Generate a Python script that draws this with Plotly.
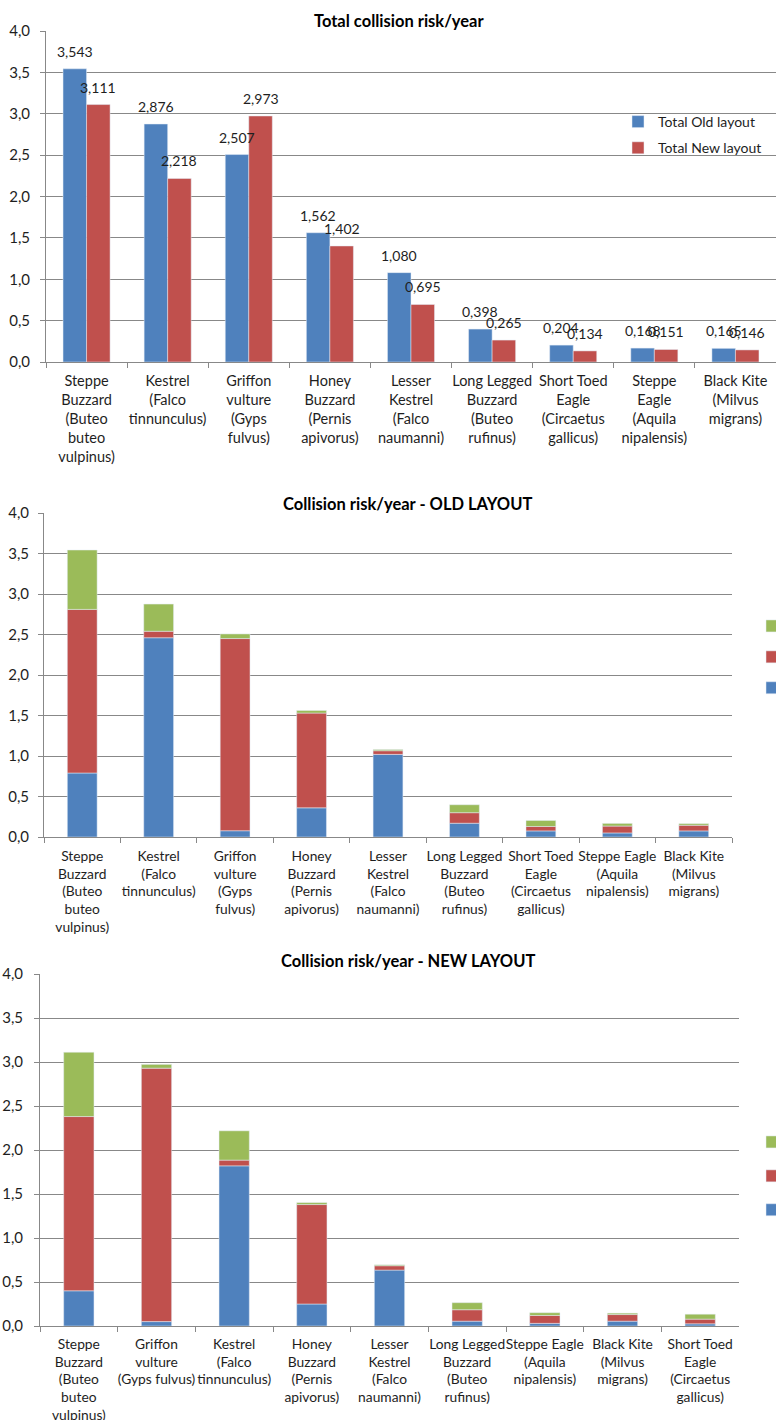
import plotly.graph_objects as go

# ---- data -------------------------------------------------------------
labels_total = [
    "Steppe<br>Buzzard<br>(Buteo<br>buteo<br>vulpinus)",
    "Kestrel<br>(Falco<br>tinnunculus)",
    "Griffon<br>vulture<br>(Gyps<br>fulvus)",
    "Honey<br>Buzzard<br>(Pernis<br>apivorus)",
    "Lesser<br>Kestrel<br>(Falco<br>naumanni)",
    "Long Legged<br>Buzzard<br>(Buteo<br>rufinus)",
    "Short Toed<br>Eagle<br>(Circaetus<br>gallicus)",
    "Steppe<br>Eagle<br>(Aquila<br>nipalensis)",
    "Black Kite<br>(Milvus<br>migrans)",
]
total_old = [3.543, 2.876, 2.507, 1.562, 1.080, 0.398, 0.204, 0.168, 0.165]
total_new = [3.111, 2.218, 2.973, 1.402, 0.695, 0.265, 0.134, 0.151, 0.146]

labels_old = [
    "Steppe<br>Buzzard<br>(Buteo<br>buteo<br>vulpinus)",
    "Kestrel<br>(Falco<br>tinnunculus)",
    "Griffon<br>vulture<br>(Gyps<br>fulvus)",
    "Honey<br>Buzzard<br>(Pernis<br>apivorus)",
    "Lesser<br>Kestrel<br>(Falco<br>naumanni)",
    "Long Legged<br>Buzzard<br>(Buteo<br>rufinus)",
    "Short Toed<br>Eagle<br>(Circaetus<br>gallicus)",
    "Steppe Eagle<br>(Aquila<br>nipalensis)",
    "Black Kite<br>(Milvus<br>migrans)",
]
old_blue = [0.790, 2.460, 0.077, 0.360, 1.020, 0.170, 0.075, 0.050, 0.075]
old_red = [2.020, 0.080, 2.373, 1.170, 0.045, 0.130, 0.055, 0.085, 0.070]
old_green = [0.733, 0.336, 0.057, 0.032, 0.015, 0.098, 0.074, 0.033, 0.020]

labels_new = [
    "Steppe<br>Buzzard<br>(Buteo<br>buteo<br>vulpinus)",
    "Griffon<br>vulture<br>(Gyps fulvus)",
    "Kestrel<br>(Falco<br>tinnunculus)",
    "Honey<br>Buzzard<br>(Pernis<br>apivorus)",
    "Lesser<br>Kestrel<br>(Falco<br>naumanni)",
    "Long Legged<br>Buzzard<br>(Buteo<br>rufinus)",
    "Steppe Eagle<br>(Aquila<br>nipalensis)",
    "Black Kite<br>(Milvus<br>migrans)",
    "Short Toed<br>Eagle<br>(Circaetus<br>gallicus)",
]
new_blue = [0.400, 0.050, 1.820, 0.250, 0.635, 0.055, 0.030, 0.055, 0.025]
new_red = [1.980, 2.880, 0.065, 1.130, 0.050, 0.130, 0.090, 0.075, 0.053]
new_green = [0.731, 0.043, 0.333, 0.022, 0.010, 0.080, 0.031, 0.016, 0.056]

# ---- styling ----------------------------------------------------------
W, H = 776, 1420
BLUE, RED, GREEN = "#4F81BD", "#C0504D", "#9BBB59"
GRID = "#888888"
FONT = "Lato"
TXT = "#1e1e1e"

# plot areas in pixels: (left, right, top, bottom)
areas = {
    1: (46, 776, 31, 362),
    2: (44, 732, 513, 837),
    3: (40, 739, 974, 1326),
}
label_size = {1: 14.5, 2: 13.8, 3: 13.8}
label_standoff = {1: 6, 2: 6, 3: 5}
ytick_standoff = {1: 7, 2: 6, 3: 8}


def dom(a):
    l, r, t, b = a
    return [l / W, r / W], [1 - b / H, 1 - t / H]


fig = go.Figure()

# chart 1: grouped totals
BW1 = 0.29
fig.add_trace(go.Bar(x=labels_total, y=total_old, name="Total Old layout",
                     marker_color=BLUE, width=BW1, offset=-BW1,
                     xaxis="x", yaxis="y", legend="legend", legendgroup="a"))
fig.add_trace(go.Bar(x=labels_total, y=total_new, name="Total New layout",
                     marker_color=RED, width=BW1, offset=0,
                     xaxis="x", yaxis="y", legend="legend", legendgroup="b"))


def stacked(labels, parts, xa, ya, leg):
    bw = 0.39
    base = [0.0] * len(labels)
    for k, (vals, col, nm) in enumerate(parts):
        fig.add_trace(go.Bar(x=labels, y=vals, base=list(base), name=nm,
                             marker_color=col, width=bw, offset=-bw / 2,
                             xaxis=xa, yaxis=ya, legend=leg, legendgroup=leg + str(k),
                             legendrank=1000 - k))
        base = [b + v for b, v in zip(base, vals)]


stacked(labels_old, [(old_blue, BLUE, " "), (old_red, RED, "  "), (old_green, GREEN, "   ")],
        "x2", "y2", "legend2")
stacked(labels_new, [(new_blue, BLUE, " "), (new_red, RED, "  "), (new_green, GREEN, "   ")],
        "x3", "y3", "legend3")

layout = dict(
    width=W, height=H, margin=dict(l=0, r=0, t=0, b=0, autoexpand=False),
    paper_bgcolor="white", plot_bgcolor="white",
    barmode="overlay", separators=",.",
    font=dict(family=FONT, size=14, color=TXT),
    showlegend=True,
)

for i in (1, 2, 3):
    xd, yd = dom(areas[i])
    sfx = "" if i == 1 else str(i)
    layout["xaxis" + sfx] = dict(
        domain=xd, anchor="y" + sfx, type="category", tickson="boundaries",
        ticks="outside", ticklen=5, tickcolor=GRID, showline=True, linecolor=GRID,
        linewidth=1, showgrid=False, tickangle=0, ticklabelstandoff=label_standoff[i],
        tickfont=dict(size=label_size[i], color=TXT),
        range=[-0.5, 8.5], fixedrange=True,
    )
    layout["yaxis" + sfx] = dict(
        domain=yd, anchor="x" + sfx, range=[0, 4], dtick=0.5, tick0=0,
        tickformat=".1f", ticks="outside", ticklen=5, tickcolor=GRID,
        showline=True, linecolor=GRID, linewidth=1, showgrid=True,
        gridcolor=GRID, gridwidth=1, zeroline=False, ticklabelstandoff=ytick_standoff[i],
        tickfont=dict(size=15, color=TXT), fixedrange=True,
    )

layout["legend"] = dict(x=(633 - 15) / W, y=1 - 106 / H, xanchor="left", yanchor="top",
                        font=dict(size=14, color=TXT), tracegroupgap=5,
                        bgcolor="rgba(0,0,0,0)", traceorder="grouped")
layout["legend2"] = dict(x=(767 - 15) / W, y=1 - 611 / H, xanchor="left", yanchor="top",
                         font=dict(size=13, color=TXT), tracegroupgap=11,
                         bgcolor="rgba(0,0,0,0)", traceorder="grouped")
layout["legend3"] = dict(x=(767 - 15) / W, y=1 - 1127 / H, xanchor="left", yanchor="top",
                         font=dict(size=13, color=TXT), tracegroupgap=14,
                         bgcolor="rgba(0,0,0,0)", traceorder="grouped")

# titles (x centre, y centre in pixels)
titles = [
    ("Total collision risk/year", 399, 21),
    ("Collision risk/year - OLD LAYOUT", 407, 504),
    ("Collision risk/year - NEW LAYOUT", 408, 961),
]
ann = []
for txt, cx, cy in titles:
    ann.append(dict(text="<b>" + txt + "</b>", x=cx / W, y=1 - cy / H,
                    xref="paper", yref="paper", xanchor="center", yanchor="middle",
                    showarrow=False, font=dict(size=16.5, color="black", family=FONT)))

# value labels above the total bars
cat_px = (areas[1][1] - areas[1][0]) / 9
shift = BW1 / 2 * cat_px
for lab, vo, vn in zip(labels_total, total_old, total_new):
    for v, dx in ((vo, -shift), (vn, shift)):
        ann.append(dict(text=f"{v:.3f}".replace(".", ","), x=lab, y=v, xref="x", yref="y",
                        xshift=dx, yshift=7, yanchor="bottom", showarrow=False,
                        font=dict(size=14, color=TXT)))
layout["annotations"] = ann

fig.update_layout(**layout)
fig.write_html("out.html")
